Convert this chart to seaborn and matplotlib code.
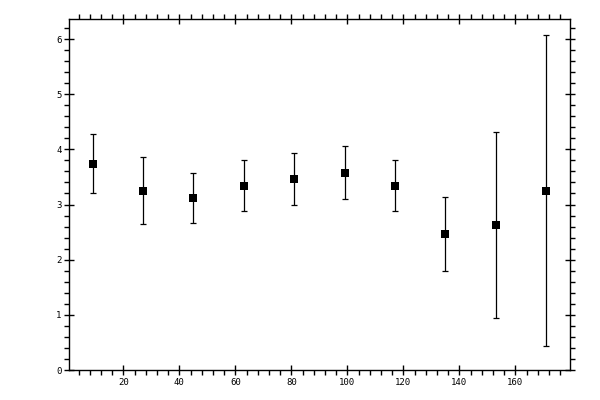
import matplotlib
matplotlib.use("Agg")

import matplotlib.pyplot as plt
import numpy as np
import pandas as pd
import seaborn as sns
from matplotlib.ticker import MultipleLocator

# values
x_pos = [9, 27, 45, 63, 81, 99, 117, 135, 153, 171]
y_mean = [3.74, 3.25, 3.12, 3.34, 3.47, 3.58, 3.34, 2.47, 2.63, 3.25]
y_err = [0.54, 0.61, 0.455, 0.46, 0.47, 0.48, 0.465, 0.67, 1.69, 2.82]

x_ticks = [20, 40, 60, 80, 100, 120, 140, 160]
y_ticks = [0, 1, 2, 3, 4, 5, 6]

df = pd.DataFrame({"x": x_pos, "y": y_mean, "err": y_err})

sns.set_style("ticks")
plt.rcParams["font.family"] = ["DejaVu Sans Mono"]

fig = plt.figure(figsize=(6, 4), dpi=100)
ax = fig.add_axes([0.1155, 0.075, 0.835, 0.877])

ax.errorbar(df["x"], df["y"], yerr=df["err"], fmt="none", ecolor="black",
            elinewidth=0.9, capsize=2.0, capthick=0.9)
sns.scatterplot(data=df, x="x", y="y", marker="s", s=26, color="black",
                edgecolor="black", linewidth=0, ax=ax, zorder=3)

ax.set_xlim(0.7, 179.6)
ax.set_ylim(0, 6.36)
ax.set_xticks(x_ticks)
ax.set_yticks(y_ticks)
ax.xaxis.set_minor_locator(MultipleLocator(4))
ax.yaxis.set_minor_locator(MultipleLocator(0.2))
ax.set_xlabel("")
ax.set_ylabel("")

for side in ["top", "right", "bottom", "left"]:
    ax.spines[side].set_visible(True)
    ax.spines[side].set_linewidth(1.0)
    ax.spines[side].set_color("black")

ax.tick_params(which="major", direction="inout", length=7, width=1.0,
               top=True, right=True, labelsize=6.5, colors="black", pad=2)
ax.tick_params(which="minor", direction="out", length=3.5, width=1.0,
               top=True, right=True, colors="black")

fig.savefig("out.png", dpi=100)
